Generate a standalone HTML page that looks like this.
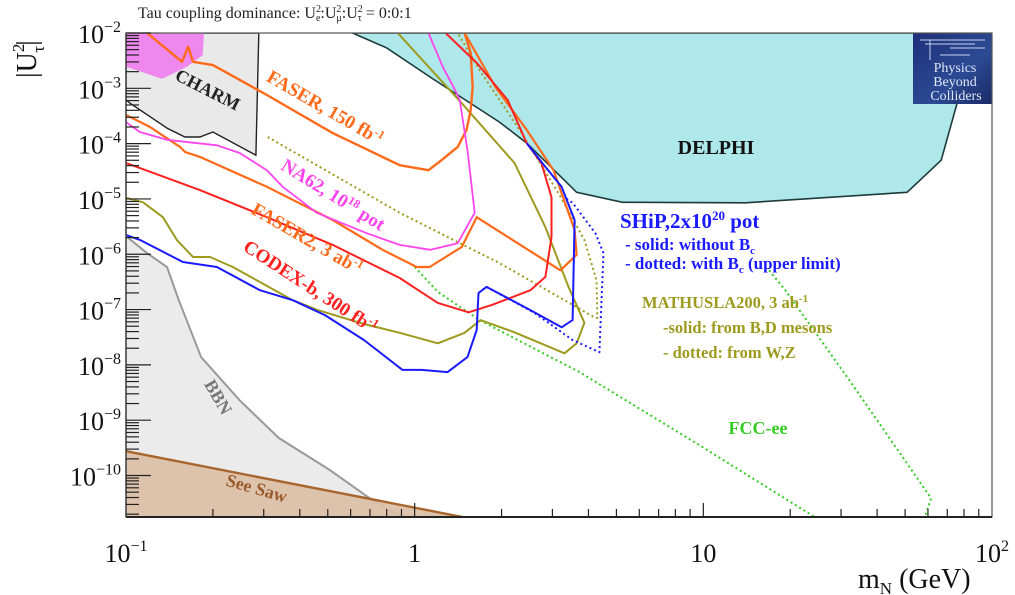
<!DOCTYPE html>
<html><head><meta charset="utf-8">
<style>
html,body{margin:0;padding:0;background:#fff;}
svg{display:block;font-family:"Liberation Serif",serif;}
</style></head>
<body>
<svg id="chart" width="1015" height="595" viewBox="0 0 1015 595" xmlns="http://www.w3.org/2000/svg">
<defs>
<clipPath id="plotclip"><rect x="126" y="33" width="866" height="484"/></clipPath>
<linearGradient id="logoGrad" x1="0" y1="0" x2="1" y2="1"><stop offset="0" stop-color="#1e2f78"/><stop offset="0.6" stop-color="#2c4a94"/><stop offset="1" stop-color="#1a2a66"/></linearGradient>
</defs>
<text x="138" y="18" font-size="16" fill="#222">Tau coupling dominance: U<tspan font-size="10" dy="-6">2</tspan><tspan font-size="10" dx="-5" dy="9">e</tspan><tspan dy="-3">:U</tspan><tspan font-size="10" dy="-6">2</tspan><tspan font-size="10" dx="-5" dy="9">μ</tspan><tspan dy="-3">:U</tspan><tspan font-size="10" dy="-6">2</tspan><tspan font-size="10" dx="-5" dy="9">τ</tspan><tspan dy="-3"> = 0:0:1</tspan></text>
<g id="plot" clip-path="url(#plotclip)"></g>
<g id="overlay"></g>
<g id="axes"></g>
</svg>
<script>
// ---- axis ranges (log10) ----
const xLogMin = -1, xLogMax = 2;
const yLogMin = -10.75, yLogMax = -2;
const xTickLabels = ["10^-1","1","10","10^2"];
const yTickExps = [-2,-3,-4,-5,-6,-7,-8,-9,-10];

// ---- data: log10(m_N/GeV) and log10(|U_tau|^2) ----
const delphiLogM = [-0.215,-0.097,0.069,0.294,0.388,0.561,0.72,1.145,1.706,1.824,1.879,1.903];
const delphiLogU = [-2,-2.27,-2.85,-3.61,-3.99,-4.88,-5.06,-5.07,-4.88,-4.30,-3.27,-2];
const charmLogM = [-1,-0.54,-0.55,-0.699,-0.744,-0.796,-0.858,-0.986,-1];
const charmLogU = [-2,-2,-4.21,-3.79,-3.88,-3.88,-3.72,-3.27,-3.21];
const na62FillLogM = [-1,-0.73,-0.734,-0.789,-0.875,-1];
const na62FillLogU = [-2,-2,-2.40,-2.61,-2.83,-2.61];
const bbnLogM = [-1,-0.927,-0.858,-0.817,-0.74,-0.606,-0.471,-0.294,-0.156,-0.031];
const bbnLogU = [-5.67,-5.98,-6.23,-6.83,-7.86,-8.64,-9.32,-9.90,-10.41,-10.79];
const seesawLogM = [-1,0.204];
const seesawLogU = [-9.56,-10.79];
const faserLogM = [-0.927,-0.806,-0.785,-0.768,-0.699,-0.512,-0.284,-0.052,0.048,0.093,0.149,0.18,0.194,0.201,0.194,0.173];
const faserLogU = [-2,-2.52,-2.25,-2.52,-2.58,-3.12,-3.81,-4.39,-4.48,-4.30,-4.06,-3.75,-3.39,-2.98,-2.36,-2];
const faser2LogM = [-1,-0.917,-0.813,-0.796,-0.744,-0.512,-0.284,-0.111,0.007,0.052,0.107,0.163,0.215,0.505,0.561,0.554,0.481,0.388,0.28,0.173];
const faser2LogU = [-3.48,-3.70,-4.06,-4.15,-4.24,-4.78,-5.38,-5.92,-6.23,-6.23,-6.05,-5.87,-5.33,-6.29,-6.01,-5.56,-4.48,-3.75,-2.98,-2];
const na62LogM = [-1,-0.952,-0.858,-0.685,-0.606,-0.512,-0.457,-0.339,-0.166,-0.052,0.055,0.149,0.208,0.183,0.156,0.135,0.097,0.048];
const na62LogU = [-3.61,-3.79,-3.93,-4.03,-4.17,-4.48,-4.78,-5.25,-5.62,-5.83,-5.92,-5.80,-5.25,-4.12,-3.21,-2.98,-2.61,-2];
const codexLogM = [-1,-0.744,-0.512,-0.284,-0.052,0.08,0.187,0.266,0.401,0.453,0.474,0.474,0.439,0.388,0.322,0.215,0.107];
const codexLogU = [-4.35,-4.84,-5.33,-5.83,-6.43,-6.88,-7.05,-6.92,-6.65,-6.41,-5.69,-4.97,-4.35,-3.99,-3.21,-2.54,-2];
const mathSolidLogM = [-1,-0.941,-0.872,-0.824,-0.768,-0.709,-0.63,-0.422,-0.336,-0.176,-0.052,0.08,0.173,0.228,0.346,0.519,0.561,0.588,0.533,0.453,0.346,0.163,-0.062];
const mathSolidLogU = [-4.98,-5.06,-5.33,-5.74,-6.05,-6.05,-6.23,-6.83,-7.01,-7.26,-7.42,-7.61,-7.42,-7.19,-7.41,-7.79,-7.61,-7.24,-6.59,-5.51,-4.35,-3.27,-1.98];
const mathDotLogM = [-0.509,-0.052,0.294,0.626,0.633,0.63,0.588,0.502,0.363,0.225,0.149];
const mathDotLogU = [-3.88,-5.25,-6.16,-7.15,-7.15,-6.47,-5.74,-4.93,-3.75,-2.67,-2];
const shipSolidLogM = [-1,-0.952,-0.803,-0.685,-0.536,-0.422,-0.311,-0.176,-0.042,0.024,0.114,0.183,0.215,0.221,0.249,0.401,0.509,0.547,0.554,0.509,0.453,0.388];
const shipSolidLogU = [-5.65,-5.74,-6.14,-6.23,-6.65,-6.83,-7.10,-7.55,-8.09,-8.09,-8.13,-7.86,-7.37,-6.70,-6.59,-7.01,-7.32,-7.19,-5.38,-4.78,-4.42,-3.99];
const shipDotLogM = [0.221,0.249,0.415,0.547,0.64,0.654,0.626,0.547,0.519];
const shipDotLogU = [-6.70,-6.59,-7.06,-7.55,-7.77,-5.98,-5.62,-5.07,-4.97];
const fcc1LogM = [0.0,0.08,0.225,0.571,0.986,1.398];
const fcc1LogU = [-6.23,-6.68,-7.19,-8.13,-9.45,-10.79];
const fcc2LogM = [1.228,1.284,1.505,1.789,1.765];
const fcc2LogU = [-6.29,-6.65,-8.27,-10.41,-10.79];

// ---- axis functions ----
const X0 = 126, X1 = 992, Y0 = 33, Y1 = 517;
function sx(lm){ return X0 + (lm - xLogMin) / (xLogMax - xLogMin) * (X1 - X0); }
function sy(lu){ return Y0 + (yLogMax - lu) / (yLogMax - yLogMin) * (Y1 - Y0); }
const NS = "http://www.w3.org/2000/svg";
const plot = document.getElementById('plot');
const axes = document.getElementById('axes');
const overlay = document.getElementById('overlay');
function pts(ms, us){ return ms.map((m,i)=> sx(m).toFixed(1)+","+sy(us[i]).toFixed(1)).join(" "); }
function mk(tag, attrs, parent){ const e=document.createElementNS(NS,tag); for(const k in attrs) e.setAttribute(k,attrs[k]); parent.appendChild(e); return e; }

let el;
el = mk('polygon',{points:pts(delphiLogM,delphiLogU)+" "+sx(1.903)+","+sy(-2),fill:"#aee8ea",stroke:"#1f3a3a","stroke-width":1.6},plot);


el = mk('polygon',{points:pts(charmLogM,charmLogU),fill:"#e9e9e9",stroke:"#222","stroke-width":1.4},plot);


el = mk('polygon',{points:pts(na62FillLogM,na62FillLogU),fill:"#ee82ee",stroke:"none","fill-opacity":0.95},plot);


el = mk('polygon',{points:pts(bbnLogM,bbnLogU)+" "+sx(-1)+","+sy(yLogMin-0.1),fill:"#ebebeb",stroke:"none"},plot);


el = mk('polyline',{points:pts(bbnLogM,bbnLogU),fill:"none",stroke:"#999","stroke-width":2},plot);


el = mk('polygon',{points:pts(seesawLogM,seesawLogU)+" "+sx(-1)+","+sy(yLogMin-0.1),fill:"#dcbfa6",stroke:"none","fill-opacity":0.92},plot);


el = mk('polyline',{points:pts(seesawLogM,seesawLogU),fill:"none",stroke:"#a8652e","stroke-width":2.4},plot);



function curve(ms,us,color,dash,name,w){
  const e = mk('polyline',{points:pts(ms,us),fill:"none",stroke:color,"stroke-width":w||2,"stroke-linejoin":"round"},plot);
  if(dash) e.setAttribute('stroke-dasharray',dash);
  return e;
}
el = curve(fcc1LogM,fcc1LogU,"#33cc22","2 3");


el = curve(fcc2LogM,fcc2LogU,"#33cc22","2 3");


el = curve(mathDotLogM,mathDotLogU,"#9e9a1e","2 3");


el = curve(mathSolidLogM,mathSolidLogU,"#9e9a1e",null);


el = curve(faserLogM,faserLogU,"#ff6a1a",null,null,2.4);


el = curve(faser2LogM,faser2LogU,"#ff6a1a",null,null,2.2);


el = curve(na62LogM,na62LogU,"#ff44ee",null,null,1.8);


el = curve(codexLogM,codexLogU,"#ff2020",null,null,2);


el = curve(shipDotLogM,shipDotLogU,"#1a1aff","2 3",null,2);


el = curve(shipSolidLogM,shipSolidLogU,"#1a1aff",null,null,2);



function label(txt,x,y,rot,color,size,name){
  const t = mk('text',{x:x,y:y,fill:color,"font-size":size,"font-weight":"bold","text-anchor":"middle",transform:"rotate("+rot+" "+x+" "+y+")"},overlay);
  t.innerHTML = txt;
  return t;
}
el = label("CHARM",205,95,27,"#222",18);


el = label('FASER, 150 fb<tspan font-size="12" dy="-7">-1</tspan>',322,113,30,"#ff6a1a",19);


el = label('NA62, 10<tspan font-size="12" dy="-7">18</tspan><tspan dy="7"> pot</tspan>',330,200,32,"#ff44ee",19);


el = label('FASER2, 3 ab<tspan font-size="12" dy="-7">-1</tspan>',304,244,30,"#ff6a1a",19);


el = label('CODEX-b, 300 fb<tspan font-size="12" dy="-7">-1</tspan>',307,292,33,"#ff2020",19);


el = label("DELPHI",716,154,0,"#111",20);


el = label("BBN",213,400,60,"#777",18);


el = label("See Saw",255,494,16,"#9a5a2a",18);


el = label("FCC-ee",758,434,0,"#33cc22",18);



function ltext(html,x,y,color,size,name){
  const t = mk('text',{x:x,y:y,fill:color,"font-size":size,"font-weight":"bold"},overlay);
  t.innerHTML = html;
  return t;
}
el = ltext('SHiP,2x10<tspan font-size="13" dy="-8">20</tspan><tspan dy="8"> pot</tspan>',620,228,"#1a1aff",21);


el = ltext('- solid: without B<tspan font-size="11" dy="4">c</tspan>',625,250,"#1a1aff",17);


el = ltext('- dotted: with B<tspan font-size="11" dy="4">c</tspan><tspan dy="-4"> (upper limit)</tspan>',625,269,"#1a1aff",17);


el = ltext('MATHUSLA200, 3 ab<tspan font-size="11" dy="-6">-1</tspan>',642,308,"#9e9a1e",16.5);


el = ltext('-solid: from B,D mesons',663,333,"#9e9a1e",16.5);


el = ltext('- dotted: from W,Z',663,358,"#9e9a1e",16.5);



const logo = mk('g',{},overlay);


mk('rect',{x:913,y:33,width:79,height:71,fill:"url(#logoGrad)"},logo);
mk('path',{d:"M920 40 H985 M925 44 H975 M930 40 V60 M950 48 H985 M940 55 H970",stroke:"#c8d4f0","stroke-width":1,fill:"none"},logo);
const lt = [["Physics",955,72],["Beyond",955,86],["Colliders",956,100]];
lt.forEach(a=>{ const t=mk('text',{x:a[1],y:a[2],fill:"#dfe6f5","font-size":14,"text-anchor":"middle"},logo); t.textContent=a[0]; });

el = mk('rect',{x:X0,y:Y0,width:X1-X0,height:Y1-Y0,fill:"none",stroke:"#555","stroke-width":1.2},axes);


mk('line',{x1:X0,y1:Y1,x2:X1,y2:Y1,stroke:"#222","stroke-width":2},axes);
mk('line',{x1:X0,y1:Y0,x2:X0,y2:Y1,stroke:"#444","stroke-width":1.5},axes);
for(let d=-1; d<2; d++){
  for(let k=1;k<10;k++){
    const lx = d + Math.log10(k);
    const x = sx(lx);
    const len = k===1 ? 14 : 8;
    if(k===1 && d===-1) continue;
    mk('line',{x1:x,y1:Y1,x2:x,y2:Y1-len,stroke:"#222","stroke-width":1.2},axes);
  }
}
for(let e=-11; e<=-2; e++){
  for(let k=1;k<10;k++){
    const lu = e + Math.log10(k);
    if(lu<yLogMin || lu>yLogMax) continue;
    const y = sy(lu);
    const len = k===1 ? 25 : 13;
    mk('line',{x1:X0,y1:y,x2:X0+len,y2:y,stroke:"#222","stroke-width":1.2},axes);
  }
}
xTickLabels.forEach((lab,i)=>{
  const x = sx(xLogMin + i);
  const parts = lab.split("^");
  const t = mk('text',{x:x,y:562,"font-size":26,fill:"#111","text-anchor":"middle"},axes);
  
  
  if(parts.length>1){ t.innerHTML = parts[0]+'<tspan font-size="16" dy="-11">'+parts[1].replace('-','−')+'</tspan>'; }
  else t.textContent = lab;
});
yTickExps.forEach(e=>{
  const y = sy(e);
  const t = mk('text',{x:121,y:y+10,"font-size":26,fill:"#111","text-anchor":"end"},axes);
  
  
  t.innerHTML = '10<tspan font-size="16" dy="-11">−'+(-e)+'</tspan>';
});
el = mk('text',{x:858,y:588,"font-size":28,fill:"#111"},axes);
el.innerHTML = 'm<tspan font-size="17" dy="6">N</tspan><tspan dy="-6"> (GeV)</tspan>';


el = mk('text',{x:36,y:78,"font-size":28,fill:"#111",transform:"rotate(-90 36 78)"},axes);
el.innerHTML = '|U<tspan font-size="17" dy="-12">2</tspan><tspan font-size="17" dx="-9" dy="20">τ</tspan><tspan dy="-8">|</tspan>';


</script>
</body></html>
